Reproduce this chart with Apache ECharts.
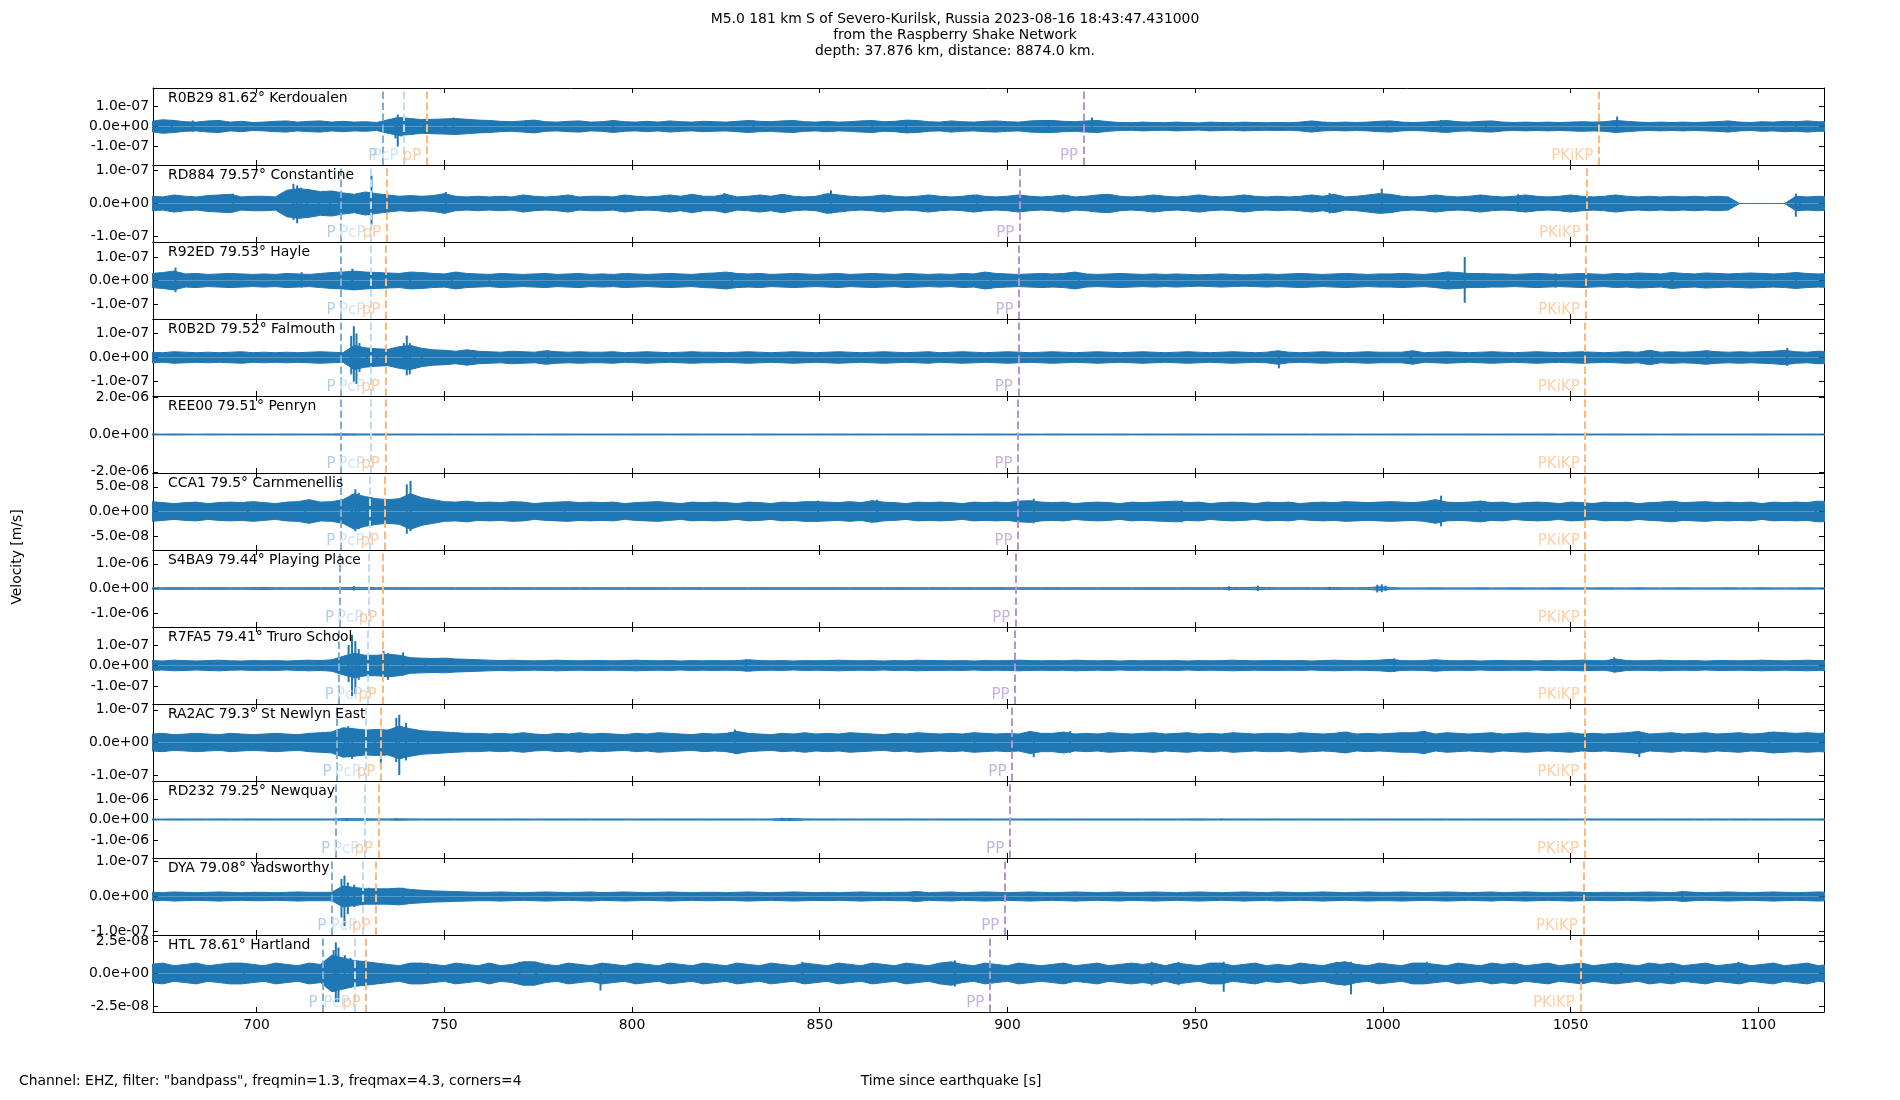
<!DOCTYPE html>
<html>
<head>
<meta charset="utf-8" />
<script src="https://cdn.jsdelivr.net/npm/echarts@6/dist/echarts.min.js"></script>
<title>Raspberry Shake record section</title>
<style>
  html, body { margin: 0; background: #fff; }
  #chart { width: 1900px; height: 1100px; }
</style>
</head>
<body>
<div id="chart"></div>
<script>
// station labels, top to bottom
const stations = [
  'R0B29 81.62° Kerdoualen', 'RD884 79.57° Constantine', 'R92ED 79.53° Hayle',
  'R0B2D 79.52° Falmouth', 'REE00 79.51° Penryn', 'CCA1 79.5° Carnmenellis',
  'S4BA9 79.44° Playing Place', 'R7FA5 79.41° Truro School', 'RA2AC 79.3° St Newlyn East',
  'RD232 79.25° Newquay', 'DYA 79.08° Yadsworthy', 'HTL 78.61° Hartland'
]

// y limits (m/s, symmetric) and tick step of each panel
const yHalfRange = [1.93e-7, 1.17e-7, 1.64e-7, 1.6e-7, 2.06e-6, 7.8e-8, 1.56e-6, 1.88e-7, 1.18e-7, 1.88e-6, 1.1e-7, 2.96e-8]
const yTickStep = [1e-7, 1e-7, 1e-7, 1e-7, 2e-6, 5e-8, 1e-6, 1e-7, 1e-7, 1e-6, 1e-7, 2.5e-8]

// time axis (s)
const xMin = 672.4, xMax = 1117.5
const xTicks = [700, 750, 800, 850, 900, 950, 1000, 1050, 1100]

// predicted arrivals (s since origin) per station
const tP = [733.6, 722.5, 722.5, 722.5, 722.5, 722.4, 722.1, 722.0, 721.4, 721.0, 720.0, 717.7]
const tPcP = [739.3, 730.5, 730.4, 730.3, 730.3, 730.2, 729.9, 729.7, 729.2, 728.8, 728.2, 726.2]
const tpP = [745.3, 734.6, 734.4, 734.3, 734.3, 734.1, 733.6, 733.5, 733.1, 732.5, 731.8, 729.2]
const tPP = [920.3, 903.3, 903.1, 902.9, 902.8, 902.8, 902.2, 902.0, 901.2, 900.6, 899.3, 895.3]
const tPKiKP = [1057.5, 1054.2, 1054.0, 1053.9, 1053.9, 1053.9, 1053.9, 1053.9, 1053.8, 1053.7, 1053.4, 1052.6]

// noise envelope of each trace: |velocity| in nm/s, one value per 3 s bin from 672 s
const binStart = 672, binStep = 3
const envR0B29 = [
  26,34,30,24,22,28,30,22,26,20, 22,26,28,22,26,28,22,26,22,24,
  20,34,45,40,34,36,38,40,36,32, 30,26,24,28,32,24,22,26,28,22,
  24,30,24,22,26,22,28,24,22,26, 24,22,26,30,26,24,28,30,24,22,
  26,22,24,28,30,24,26,32,30,24, 22,28,24,22,26,28,24,22,28,30,
  30,26,24,28,30,24,20,19,22,20, 19,22,20,18,22,20,19,22,20,19,
  20,19,22,28,22,20,22,20,22,26, 28,22,20,22,26,30,24,22,26,28,
  22,20,22,20,22,20,22,24,22,24, 30,26,22,20,22,20,22,20,22,24,
  28,22,20,24,22,26,24,28,24,24
]
const envRD884 = [
  22,20,26,22,20,24,26,28,20,22, 22,20,40,45,42,36,38,32,28,35,
  30,26,22,24,22,24,30,22,20,22, 20,22,20,26,22,20,22,26,20,22,
  22,20,26,22,20,22,26,22,28,22, 22,28,20,22,26,22,28,22,20,22,
  30,26,22,20,22,26,22,20,22,26, 22,20,22,26,22,20,22,26,22,20,
  22,26,20,22,26,28,22,20,22,26, 22,20,22,26,22,20,22,26,22,20,
  22,20,22,26,22,28,20,22,26,30, 28,22,20,22,26,22,20,22,26,22,
  20,22,26,22,20,22,26,22,20,22, 26,22,20,22,20,22,20,22,20,22,
  20,0,0,0,0,0,22,20,22,20
]
const envR92ED = [
  30,34,40,28,30,26,28,30,28,26, 28,26,30,28,26,30,34,36,40,36,
  34,32,30,36,34,30,28,36,30,28, 26,30,28,26,28,30,26,28,30,26,
  28,26,30,28,26,28,30,28,26,30, 32,36,30,28,30,26,28,30,28,26,
  28,30,26,28,30,28,26,30,28,26, 28,26,30,28,36,30,28,26,28,30,
  28,30,36,28,26,28,30,28,26,28, 26,28,26,24,26,28,26,24,26,28,
  26,28,30,28,26,28,30,28,26,28, 28,30,28,26,30,36,34,30,30,28,
  28,26,28,30,28,26,28,30,28,26, 30,28,32,30,28,34,30,28,32,30,
  28,30,32,30,28,30,34,30,28,30
]
const envR0B2D = [
  22,20,24,22,20,22,20,22,24,20, 22,20,22,20,22,24,22,20,50,40,
  36,34,45,50,38,32,30,26,32,26, 24,22,26,24,22,28,24,22,24,22,
  22,24,20,22,24,22,20,22,24,22, 22,20,22,24,22,20,22,24,22,20,
  22,24,22,20,22,24,22,20,22,24, 20,22,24,22,20,22,24,22,20,22,
  24,22,20,22,24,22,20,22,24,22, 20,22,24,22,20,22,24,22,20,22,
  28,22,20,22,24,22,20,22,24,22, 22,22,28,20,22,24,22,20,22,24,
  22,20,22,24,22,20,22,24,22,20, 22,24,22,30,22,24,22,24,28,24,
  22,24,22,24,26,30,24,22,26,24
]
const envREE00 = [
  25,22,28,24,20,26,24,22,25,23, 24,22,26,25,23,24,28,35,30,26,
  28,25,24,26,22,24,25,23,24,22, 24,26,23,25,22,24,26,25,23,24,
  22,25,24,26,23,25,22,24,26,23, 25,23,24,22,26,25,23,24,22,25,
  24,26,23,25,24,22,25,23,26,24, 23,25,24,22,25,26,24,23,25,22,
  26,24,22,25,23,24,26,22,24,25, 23,25,26,24,22,25,23,24,26,25,
  24,22,25,23,26,24,25,22,24,23, 25,24,26,22,24,25,23,26,24,22,
  24,25,23,24,26,22,25,24,23,25, 26,23,24,25,22,24,26,23,25,24,
  23,24,25,26,24,23,22,25,24,23
]
const envCCA1 = [
  20,18,16,18,19,16,18,19,18,20, 18,16,19,20,24,19,20,24,36,30,
  26,24,26,36,28,24,20,19,21,18, 19,18,20,19,16,18,19,20,18,19,
  18,19,16,18,19,20,18,16,19,18, 19,18,16,19,18,16,19,18,20,20,
  19,18,20,18,22,19,18,16,19,18, 19,18,16,19,18,19,18,21,22,19,
  18,19,16,18,19,18,16,19,18,19, 20,21,18,19,16,18,19,18,16,19,
  18,19,16,18,19,18,20,19,18,19, 20,19,18,20,24,19,18,19,21,18,
  19,16,18,19,18,16,19,18,16,19, 18,19,16,18,19,21,18,19,20,18,
  19,18,19,16,19,18,19,18,21,20
]
const envS4BA9 = [
  30,28,32,30,28,30,32,28,30,32, 40,30,28,30,32,30,30,35,45,40,
  30,28,32,30,28,30,32,28,30,28, 30,32,28,30,29,31,28,30,32,29,
  28,30,31,29,32,30,28,31,29,30, 31,29,30,28,32,30,29,31,28,30,
  29,31,28,30,31,29,32,30,28,31, 30,28,31,29,30,32,28,30,31,29,
  31,30,28,32,29,30,31,28,30,32, 30,28,32,30,28,30,40,35,50,35,
  30,28,32,30,28,35,30,28,35,70, 35,25,24,25,26,24,25,24,26,25,
  24,26,25,24,25,26,24,25,24,26, 25,24,26,25,24,25,26,24,25,24,
  26,25,24,26,25,24,25,26,24,25
]
const envR7FA5 = [
  24,22,26,24,22,24,26,23,22,24, 23,24,22,24,26,24,28,45,60,50,
  50,55,50,38,36,34,36,32,30,28, 26,24,26,24,23,24,26,24,23,24,
  24,23,24,26,24,23,24,22,24,23, 24,23,24,28,24,23,24,22,24,23,
  24,26,24,23,24,22,24,23,26,24, 24,23,24,22,24,23,24,26,24,23,
  24,23,26,24,23,24,22,24,23,24, 23,24,22,24,23,24,26,24,23,24,
  24,23,24,22,24,26,24,23,24,26, 30,24,23,24,28,24,23,24,22,24,
  24,23,24,22,24,23,24,26,24,23, 32,24,23,24,26,24,23,24,22,24,
  24,23,24,26,24,23,24,26,24,24
]
const envRA2AC = [
  26,28,24,26,28,26,24,28,26,24, 26,28,26,24,28,30,32,45,42,38,
  40,38,50,42,36,34,32,30,28,28, 26,28,26,30,26,24,28,26,30,26,
  28,26,24,28,26,30,28,26,24,28, 26,28,34,28,26,24,28,26,30,26,
  28,26,30,28,26,24,28,26,30,28, 26,28,26,30,28,26,28,26,34,28,
  28,32,26,28,26,30,28,26,28,30, 26,28,30,26,28,26,30,28,26,28,
  28,26,30,28,26,28,32,26,28,26, 28,30,30,34,26,30,28,26,28,30,
  26,28,30,28,26,28,30,26,28,26, 28,30,34,26,28,30,26,28,30,26,
  28,30,26,28,32,30,28,30,28,30
]
const envRD232 = [
  25,22,26,24,25,23,26,25,24,26, 25,24,26,25,24,26,25,40,40,35,
  30,26,35,28,25,24,26,25,24,26, 25,24,26,25,23,26,24,25,26,24,
  24,26,25,23,25,24,26,25,24,25, 25,24,26,25,24,26,50,45,30,25,
  26,24,25,23,26,25,24,26,25,24, 24,25,26,24,25,23,26,24,25,26,
  25,26,24,25,26,24,25,26,24,25, 24,25,26,30,25,24,26,25,24,26,
  26,24,25,26,24,25,23,26,25,24, 25,26,24,25,26,24,25,24,26,25,
  24,25,26,24,25,26,24,25,26,24, 26,24,25,26,24,25,26,24,25,26,
  25,26,24,25,24,26,25,24,26,25
]
const envDYA = [
  12,11,13,12,11,12,13,12,11,12, 12,11,12,13,12,12,12,30,26,22,
  22,22,24,20,18,16,15,14,13,12, 12,13,12,11,12,13,12,11,12,13,
  11,12,13,12,11,12,13,12,11,12, 12,11,12,13,12,11,12,13,12,11,
  12,11,12,13,12,11,12,12,14,11, 12,13,11,12,13,12,11,12,13,12,
  11,12,13,12,11,12,13,11,12,13, 12,11,12,13,12,11,12,13,12,11,
  13,12,11,12,13,12,11,12,13,12, 12,13,12,11,12,13,12,11,12,13,
  11,12,13,12,11,12,13,12,11,12, 12,11,12,13,12,11,14,12,11,12,
  13,12,11,12,13,12,11,12,13,12
]
const envHTL = [
  7,8,6,7,8,6,7,8,8,7, 6,8,7,6,8,7,14,12,10,9,
  8,7,6,8,8,7,6,8,7,6, 8,6,7,9,9,7,6,8,7,6,
  8,7,6,8,7,6,8,7,6,8, 7,6,8,7,6,8,7,6,8,7,
  6,8,7,6,8,7,6,8,7,6, 8,9,7,6,8,7,6,8,7,6,
  7,8,6,7,8,6,7,8,7,8, 6,8,7,6,8,8,6,7,8,6,
  7,6,8,7,6,8,9,7,6,8, 7,6,8,8,7,6,8,7,6,8,
  7,8,6,7,8,6,7,8,6,7, 8,7,6,8,7,8,6,7,8,6,
  7,8,6,7,8,6,7,8,6,7
]
const envelopes = [envR0B29, envRD884, envR92ED, envR0B2D, envREE00, envCCA1,
  envS4BA9, envR7FA5, envRA2AC, envRD232, envDYA, envHTL]

// single large swings: [time s, peak up nm/s, peak down nm/s]
const spkR0B29 = [[677.4, 32, 28], [683.0, 30, 26], [737.0, 45, 60], [737.6, 60, 100], [738.5, 35, 50],
  [744.6, 38, 30], [750.3, 35, 32], [752.4, 45, 42], [771.8, 30, 28], [795.0, 30, 28], [832.3, 30, 28],
  [864.0, 26, 26], [873.0, 32, 30], [911.0, 28, 26], [922.5, 45, 22], [982.4, 28, 26], [1001.0, 26, 24],
  [1015.5, 32, 30], [1027.5, 26, 24], [1062.4, 50, 26], [1092.3, 26, 24], [1110.0, 26, 24]]
const spkRD884 = [[693.7, 30, 26], [709.8, 60, 50], [710.8, 55, 60], [711.8, 48, 45], [713.5, 40, 38],
  [716.5, 35, 30], [719.5, 38, 36], [722.0, 32, 30], [730.6, 85, 65], [750.4, 35, 30], [824.6, 32, 30],
  [853.0, 40, 30], [892.0, 28, 26], [985.8, 32, 30], [999.7, 45, 30], [1036.0, 28, 26], [1110.0, 30, 40],
  [1111.0, 22, 20]]
const spkR92ED = [[678.4, 55, 50], [712.0, 35, 30], [725.5, 50, 40], [730.5, 35, 32], [740.8, 35, 30],
  [752.0, 30, 28], [762.0, 28, 26], [826.6, 35, 30], [895.5, 32, 35], [919.0, 32, 30], [1017.4, 38, 35],
  [1021.8, 100, 95], [1046.0, 30, 30], [1077.0, 32, 30], [1110.0, 30, 32]]
const spkR0B2D = [[725.2, 90, 70], [725.9, 130, 100], [726.6, 100, 110], [727.4, 60, 60], [729.5, 40, 35],
  [732.0, 35, 30], [739.2, 60, 50], [740.0, 91, 74], [740.8, 60, 70], [744.0, 35, 30], [758.0, 30, 28],
  [777.7, 30, 28], [972.3, 25, 45], [1007.4, 28, 26], [1071.7, 30, 28], [1086.5, 30, 28], [1107.7, 40, 35]]
const spkREE00 = [[726.0, 45, 40]]
const spkCCA1 = [[697.6, 20, 18], [713.0, 22, 20], [725.4, 35, 30], [726.3, 45, 40], [727.2, 38, 36],
  [729.3, 30, 28], [740.0, 55, 45], [741.0, 62, 40], [782.0, 20, 18], [849.5, 22, 20], [865.3, 24, 22],
  [903.7, 22, 20], [907.0, 26, 24], [946.4, 22, 22], [1015.5, 32, 30], [1026.0, 22, 20], [1078.0, 20, 18],
  [1115.3, 20, 18]]
const spkS4BA9 = [[725.9, 100, 80], [959.0, 90, 80], [966.7, 120, 100], [985.8, 70, 60], [998.5, 150, 160],
  [999.7, 170, 150], [1000.7, 120, 100]]
const spkR7FA5 = [[724.5, 100, 80], [725.4, 150, 150], [726.3, 120, 140], [727.2, 80, 70], [733.8, 72, 50],
  [735.0, 60, 70], [739.0, 64, 50], [745.0, 35, 30], [830.3, 30, 28], [1003.0, 35, 32], [1013.0, 28, 26],
  [1061.6, 40, 35]]
const spkRA2AC = [[723.5, 45, 40], [724.4, 50, 45], [725.4, 45, 50], [729.0, 36, 34], [731.5, 40, 36],
  [733.1, 40, 73], [737.2, 75, 60], [738.0, 85, 100], [739.8, 60, 55], [743.0, 36, 34], [827.4, 40, 35],
  [891.2, 30, 28], [907.0, 25, 45], [916.7, 35, 32], [990.6, 33, 30], [1011.2, 36, 34], [1068.3, 25, 45],
  [1102.9, 33, 30]]
const spkRD232 = [[724.0, 60, 55], [737.0, 45, 40], [840.0, 80, 70], [842.0, 75, 70], [957.0, 45, 40]]
const spkDYA = [[722.6, 50, 60], [723.4, 60, 85], [724.3, 40, 50], [726.0, 34, 30], [730.0, 25, 22],
  [739.0, 25, 22], [875.0, 15, 14], [1079.8, 16, 14]]
const spkHTL = [[696.6, 8, 7], [720.5, 18, 14], [721.1, 24, 22], [721.8, 20, 22], [723.5, 14, 12],
  [725.0, 12, 11], [729.0, 10, 10], [745.6, 8, 7], [770.0, 9, 8], [774.4, 9, 8], [791.6, 8, 13],
  [845.4, 9, 8], [886.0, 10, 10], [938.4, 9, 9], [945.6, 9, 9], [957.6, 9, 14], [987.7, 9, 8],
  [991.5, 9, 16], [1011.7, 9, 8], [1063.5, 8, 7], [1077.0, 8, 7], [1094.7, 9, 8]]
const spikes = [spkR0B29, spkRD884, spkR92ED, spkR0B2D, spkREE00, spkCCA1,
  spkS4BA9, spkR7FA5, spkRA2AC, spkRD232, spkDYA, spkHTL]

// phase styles
const phases = [
  { name: 'PcP', times: tPcP, line: '#c3dbee', text: '#c6dcef' },
  { name: 'P', times: tP, line: '#7dafd8', text: '#9ec3e2' },
  { name: 'pP', times: tpP, line: '#ffb77a', text: '#ffbd84' },
  { name: 'PP', times: tPP, line: '#b295d2', text: '#b79fd6' },
  { name: 'PKiKP', times: tPKiKP, line: '#ffb77a', text: '#ffc28c' }
]

const font = 'DejaVu Sans'
const fs = 13.9
const traceColor = '#1f77b4'
const gridLeft = 153, gridWidth = 1671, gridTop = 88, panelH = 77

function sci(v) {
  if (Math.abs(v) < 1e-20) return '0.0e+00'
  var parts = v.toExponential(1).split('e')
  var sign = parts[1].charAt(0) === '-' ? '-' : '+'
  var digits = parts[1].replace(/[+-]/, '')
  if (digits.length < 2) digits = '0' + digits
  return parts[0] + 'e' + sign + digits
}

var grids = [], xAxes = [], yAxes = [], series = []
var plain = { fontFamily: font, fontSize: fs, fontWeight: 'normal', color: '#000' }
var titles = [{
  text: 'M5.0 181 km S of Severo-Kurilsk, Russia 2023-08-16 18:43:47.431000\nfrom the Raspberry Shake Network\ndepth: 37.876 km, distance: 8874.0 km.',
  left: 950, top: 6, textAlign: 'center',
  textStyle: Object.assign({ lineHeight: 16 }, plain)
}, {
  text: 'Channel: EHZ, filter: "bandpass", freqmin=1.3, freqmax=4.3, corners=4',
  left: 14, top: 1069, textStyle: plain
}, {
  text: 'Time since earthquake [s]',
  left: 946, top: 1069, textAlign: 'center', textStyle: plain
}]

stations.forEach(function (name, i) {
  var top = gridTop + i * panelH
  var last = i === stations.length - 1
  var h = yHalfRange[i], s = yTickStep[i]
  var yt = [-s, 0, s]
  grids.push({ left: gridLeft, top: top, width: gridWidth, height: panelH })

  var frame = { onZero: false, lineStyle: { color: '#000', width: 1 } }
  var tick = { inside: true, length: 5, lineStyle: { color: '#000', width: 1 } }
  ;['bottom', 'top'].forEach(function (pos) {
    xAxes.push({
      type: 'value', gridIndex: i, position: pos, min: xMin, max: xMax,
      axisLine: frame,
      axisTick: Object.assign({ customValues: xTicks }, tick),
      axisLabel: {
        show: last && pos === 'bottom', customValues: xTicks, margin: 6,
        formatter: function (v) { return String(v) },
        fontFamily: font, fontSize: fs, color: '#000'
      },
      splitLine: { show: false }
    })
  })
  ;['left', 'right'].forEach(function (pos) {
    yAxes.push({
      type: 'value', gridIndex: i, position: pos, min: -h, max: h,
      axisLine: frame,
      axisTick: Object.assign({ customValues: yt }, tick),
      axisLabel: {
        show: pos === 'left', customValues: yt, margin: 4, formatter: sci,
        fontFamily: font, fontSize: fs, color: '#000'
      },
      splitLine: { show: false }
    })
  })

  titles.push({
    text: name, left: gridLeft + 10, top: top - 2, textStyle: plain
  })

  // noise band
  var env = envelopes[i]
  ;[1, -1].forEach(function (sgn) {
    series.push({
      type: 'line', xAxisIndex: 2 * i, yAxisIndex: 2 * i,
      data: env.map(function (v, k) { return [binStart + k * binStep, sgn * v * 1e-9] }),
      showSymbol: false, silent: true, z: 2,
      lineStyle: { color: traceColor, width: 1 },
      areaStyle: { color: traceColor, opacity: 1 }
    })
  })

  // individual swings
  series.push({
    type: 'custom', xAxisIndex: 2 * i, yAxisIndex: 2 * i, silent: true, z: 3,
    data: spikes[i],
    renderItem: function (params, api) {
      var t = api.value(0)
      var a = api.coord([t, api.value(1) * 1e-9])
      var b = api.coord([t, -api.value(2) * 1e-9])
      return {
        type: 'line',
        shape: { x1: a[0], y1: a[1], x2: b[0], y2: b[1] },
        style: { stroke: traceColor, lineWidth: 2 }
      }
    }
  })

  // arrival lines and their labels
  series.push({
    type: 'scatter', xAxisIndex: 2 * i, yAxisIndex: 2 * i, silent: true, clip: false, z: 5,
    symbolSize: 1, itemStyle: { color: 'rgba(0,0,0,0)' },
    data: phases.map(function (ph) {
      return {
        name: ph.name, value: [ph.times[i], -h],
        label: {
          show: true, position: 'left', distance: 5, offset: [0, -9],
          formatter: '{b}', color: ph.text, fontFamily: font, fontSize: 15
        }
      }
    }),
    markLine: {
      silent: true, symbol: ['none', 'none'], label: { show: false }, animation: false,
      data: phases.map(function (ph) {
        return { xAxis: ph.times[i], lineStyle: { color: ph.line, type: [7.5, 3.5], width: 2 } }
      })
    }
  })
})

var chart = echarts.init(document.getElementById('chart'))
chart.setOption({
  backgroundColor: '#fff',
  animation: false,
  title: titles,
  grid: grids,
  xAxis: xAxes,
  yAxis: yAxes,
  series: series,
  graphic: [{
    type: 'text', x: 17, y: 557, rotation: Math.PI / 2,
    style: {
      text: 'Velocity [m/s]', fontFamily: font, fontSize: fs, fill: '#000',
      textAlign: 'center', textVerticalAlign: 'middle'
    }
  }]
})
</script>
</body>
</html>
